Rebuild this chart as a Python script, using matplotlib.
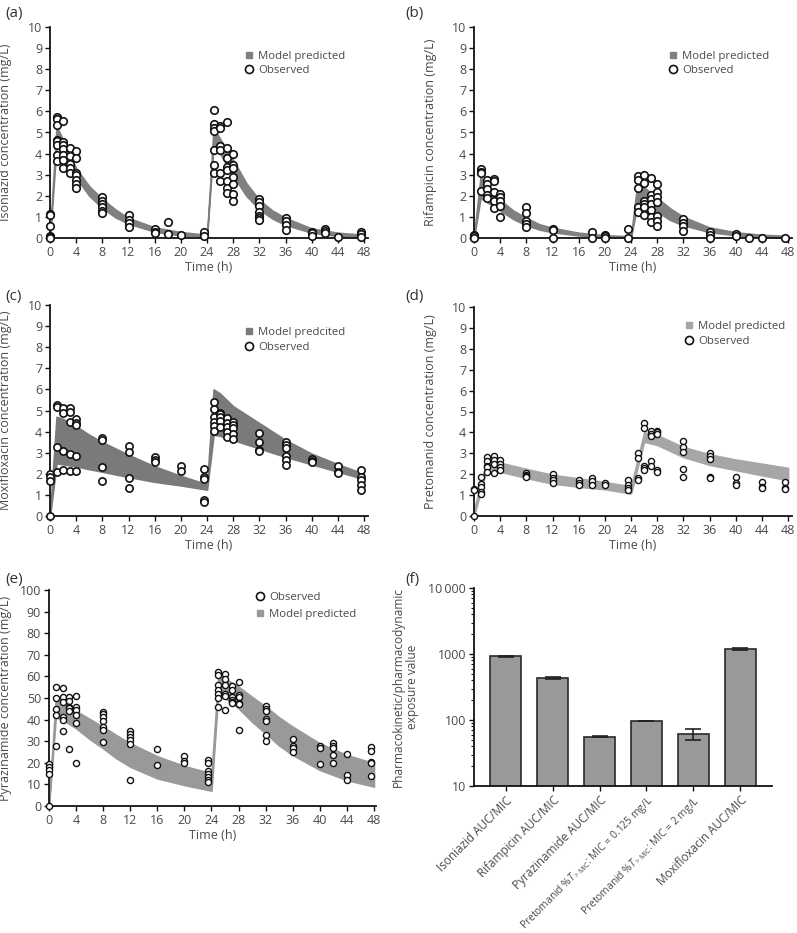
import matplotlib
matplotlib.use("Agg")
import matplotlib.pyplot as plt
from matplotlib.lines import Line2D
import numpy as np

plt.rcParams['font.family'] = ['Open Sans', 'DejaVu Sans']
plt.rcParams['mathtext.fontset'] = 'custom'
plt.rcParams['mathtext.rm'] = 'Open Sans'
plt.rcParams['mathtext.it'] = 'Open Sans:italic'

# ---------------- data ----------------
TIME_TICKS = list(range(0, 49, 4))

# (a) Isoniazid
INH_BAND_T = [0, 1, 2, 3, 4, 6, 8, 10, 12, 16, 20, 24, 25, 26, 27, 28, 30, 32, 34, 36, 40, 44, 48]
INH_BAND_HI = [0.2, 5.3, 4.65, 3.95, 3.3, 2.45, 1.85, 1.35, 0.95, 0.5, 0.28, 0.15, 5.2, 4.7, 4.2, 3.7, 2.6, 1.8, 1.3, 0.95, 0.45, 0.25, 0.15]
INH_BAND_LO = [0.0, 4.4, 4.15, 3.45, 2.85, 2.0, 1.42, 0.98, 0.68, 0.3, 0.12, 0.05, 4.4, 4.0, 3.45, 2.95, 2.0, 1.35, 0.92, 0.62, 0.25, 0.1, 0.05]
INH_OBS = {
    0: [1.15, 1.1, 0.55, 0.1, 0.05, 0.0],
    1: [5.75, 5.65, 5.35, 4.65, 4.6, 4.4, 3.95, 3.65],
    2: [5.55, 4.55, 4.4, 4.2, 3.95, 3.7, 3.3],
    3: [4.25, 3.9, 3.5, 3.3, 3.1],
    4: [4.1, 3.8, 3.1, 3.0, 2.75, 2.55, 2.35],
    8: [1.95, 1.75, 1.6, 1.45, 1.3, 1.2],
    12: [1.1, 0.85, 0.7, 0.5],
    16: [0.45, 0.3, 0.25],
    18: [0.75, 0.2],
    20: [0.15],
    23.5: [0.3, 0.1],
    25: [6.05, 5.4, 5.2, 5.05, 4.15, 3.45, 3.1],
    26: [5.3, 5.2, 4.35, 4.15, 3.1, 2.7],
    27: [5.5, 4.25, 3.8, 3.35, 3.2, 2.7, 2.35, 2.15],
    28: [4.0, 3.45, 3.3, 2.9, 2.55, 2.1, 1.75],
    32: [1.85, 1.7, 1.5, 1.25, 1.05, 0.95, 0.85],
    36: [0.95, 0.8, 0.6, 0.4],
    40: [0.3, 0.25, 0.1],
    42: [0.45, 0.35, 0.25],
    44: [0.05],
    47.5: [0.3, 0.2, 0.05],
}

# (b) Rifampicin
RIF_BAND_T = [0, 1, 2, 3, 4, 6, 8, 10, 12, 16, 20, 24, 25, 26, 27, 28, 30, 32, 36, 40, 44, 48]
RIF_BAND_HI = [0.1, 2.9, 2.35, 2.05, 1.8, 1.3, 0.95, 0.65, 0.48, 0.25, 0.13, 0.08, 2.7, 2.4, 2.15, 1.9, 1.4, 1.0, 0.5, 0.27, 0.15, 0.1]
RIF_BAND_LO = [0.0, 1.9, 1.7, 1.5, 1.3, 0.9, 0.6, 0.4, 0.28, 0.12, 0.06, 0.03, 1.65, 1.55, 1.4, 1.25, 0.85, 0.6, 0.28, 0.13, 0.06, 0.03]
RIF_OBS = {
    0: [0.15, 0.1, 0.0],
    1: [3.25, 3.15, 3.1, 2.25],
    2: [2.75, 2.55, 2.3, 2.05, 1.9],
    3: [2.8, 2.7, 2.2, 1.75, 1.4],
    4: [2.1, 1.95, 1.75, 1.5, 1.0],
    8: [1.45, 1.2, 0.8, 0.65, 0.5],
    12: [0.45, 0.4, 0.0],
    18: [0.3, 0.0],
    20: [0.15, 0.1, 0.0],
    23.5: [0.45, 0.0],
    25: [2.95, 2.75, 2.35, 1.45, 1.25],
    26: [2.97, 2.6, 1.75, 1.6, 1.45, 1.1],
    27: [2.85, 2.05, 1.85, 1.6, 1.35, 1.0, 0.75],
    28: [2.55, 2.2, 1.95, 1.7, 1.05, 0.8, 0.55],
    32: [0.9, 0.7, 0.55, 0.35],
    36: [0.3, 0.15, 0.0],
    40: [0.2, 0.1],
    42: [0.0],
    44: [0.0],
    47.5: [0.0],
}

# (c) Moxifloxacin
MOX_BAND_T = [0, 1, 2, 4, 6, 8, 10, 12, 16, 20, 24, 25, 26, 28, 30, 32, 34, 36, 40, 44, 48]
MOX_BAND_HI = [0.1, 4.7, 4.6, 4.25, 3.85, 3.5, 3.2, 2.9, 2.35, 1.9, 1.5, 6.0, 5.8, 5.2, 4.8, 4.4, 4.0, 3.6, 2.95, 2.45, 2.0]
MOX_BAND_LO = [0.0, 2.5, 2.45, 2.35, 2.22, 2.1, 1.97, 1.85, 1.62, 1.45, 1.25, 3.85, 3.8, 3.6, 3.4, 3.2, 3.0, 2.8, 2.45, 2.1, 1.75]
MOX_OBS = {
    0: [2.0, 1.85, 1.65, 0.0],
    1: [5.25, 5.15, 3.25, 2.1],
    2: [5.1, 4.9, 3.1, 2.2],
    3: [5.1, 4.95, 4.47, 2.95, 2.15],
    4: [4.6, 4.42, 4.3, 2.85, 2.15],
    8: [3.7, 3.6, 2.3, 1.65],
    12: [3.3, 3.05, 1.8, 1.35],
    16: [2.8, 2.65, 2.55],
    20: [2.37, 2.15],
    23.5: [2.25, 1.85, 1.75, 0.75, 0.65],
    25: [5.4, 5.05, 4.7, 4.45, 4.25, 4.05],
    26: [4.9, 4.85, 4.7, 4.5, 4.2],
    27: [4.65, 4.4, 4.2, 4.0, 3.75],
    28: [4.45, 4.3, 4.15, 3.9, 3.65],
    32: [3.95, 3.5, 3.15, 3.1],
    36: [3.5, 3.35, 3.2, 2.85, 2.65, 2.4],
    40: [2.7, 2.6, 2.55],
    44: [2.35, 2.1, 2.05],
    47.5: [2.2, 1.85, 1.7, 1.45, 1.25],
}

# (d) Pretomanid
PA_BAND_T = [0, 2, 4, 8, 12, 16, 20, 24, 26, 28, 32, 36, 40, 44, 48]
PA_BAND_HI = [0.3, 2.7, 2.55, 2.25, 1.97, 1.8, 1.62, 1.42, 4.0, 3.87, 3.3, 2.95, 2.7, 2.5, 2.3]
PA_BAND_LO = [0.0, 2.3, 2.12, 1.82, 1.55, 1.4, 1.28, 1.08, 3.55, 3.4, 2.82, 2.45, 2.2, 1.95, 1.72]
PA_OBS = {
    0: [1.3, 1.25, 0.0],
    1: [1.85, 1.55, 1.4, 1.15, 1.05],
    2: [2.8, 2.65, 2.4, 2.35, 2.1],
    3: [2.85, 2.7, 2.5, 2.05],
    4: [2.7, 2.5, 2.35, 2.2],
    8: [2.05, 1.95, 1.9, 1.85],
    12: [2.0, 1.8, 1.7, 1.6],
    16: [1.7, 1.6, 1.5],
    18: [1.8, 1.68, 1.5],
    20: [1.6, 1.5],
    23.5: [1.7, 1.5, 1.35, 1.25],
    25: [3.0, 2.78, 1.8, 1.7],
    26: [4.45, 4.2, 2.4, 2.3, 2.2],
    27: [4.05, 3.9, 3.85, 2.65, 2.4],
    28: [4.05, 4.0, 3.9, 2.2, 2.1],
    32: [3.6, 3.3, 3.05, 2.25, 1.85],
    36: [3.0, 2.85, 2.75, 1.85, 1.8],
    40: [1.85, 1.6, 1.5],
    44: [1.65, 1.4, 1.35],
    47.5: [1.65, 1.35, 1.3],
}

# (e) Pyrazinamide
PZA_BAND_T = [0, 1, 2, 4, 6, 8, 10, 12, 16, 20, 24, 25, 26, 28, 30, 32, 34, 36, 40, 44, 48]
PZA_BAND_HI = [2, 50, 48.5, 44, 40.3, 36.7, 32.7, 29, 23, 18.5, 15.1, 60, 59, 55.2, 50.5, 46, 41, 36.7, 29, 23.6, 19.8]
PZA_BAND_LO = [0, 41, 40, 36, 31, 26.7, 22, 18.2, 12.8, 9.7, 7.1, 52, 50, 45.2, 39, 33.6, 28, 23.6, 16.7, 12, 9]
PZA_OBS = {
    0: [19.5, 18, 16.5, 15, 0],
    1: [55, 50, 45, 42, 28],
    2: [54.5, 50.5, 48, 41, 40, 34.5],
    3: [50.5, 48.5, 46, 45.5, 44, 26.5],
    4: [51, 46, 44.5, 42, 38.5, 20],
    8: [43.5, 42.5, 41, 39.5, 36.5, 35, 29.5],
    12: [34.5, 33.5, 32, 30.5, 28.5, 12],
    16: [26.5, 19],
    20: [23, 21, 20],
    23.5: [21.5, 20, 16, 15, 13.5, 12, 11],
    25: [62, 60.5, 56, 53.5, 52, 50, 46],
    26: [61, 59, 56, 52, 51, 44.5],
    27: [55.5, 53.5, 50.5, 49, 48, 47.5],
    28: [57.5, 51.5, 50.5, 47.5, 47, 35],
    32: [46.5, 45, 44, 40.5, 39.5, 33, 30],
    36: [31, 28, 27, 25],
    40: [28, 27, 19.5],
    42: [29, 28, 27, 23.5, 20],
    44: [24, 14.5, 12],
    47.5: [27.5, 25.5, 20.5, 20, 14],
}

# (f) PK/PD exposure
PKPD_LABELS = [
    "Isoniazid AUC/MIC",
    "Rifampicin AUC/MIC",
    "Pyrazinamide AUC/MIC",
    r"Pretomanid %$T_{>\mathrm{MIC}}$: MIC = 0.125 mg/L",
    r"Pretomanid %$T_{>\mathrm{MIC}}$: MIC = 2 mg/L",
    "Moxifloxacin AUC/MIC",
]
PKPD_VALUES = [920, 430, 56, 96, 61, 1190]
PKPD_ERR = [20, 15, 1.5, 0, 12, 30]
PKPD_YTICKS = [10, 100, 1000, 10000]
PKPD_YTICKLABELS = ["10", "100", "1000", "10\u2009000"]

# ---------------- figure ----------------
W, H = 797, 933
FS = 9
LFS = 8.2
fig = plt.figure(figsize=(W / 100, H / 100), dpi=100)
TXT = '#4a4a4a'


def add_ax(l, t, r, b):
    return fig.add_axes([l / W, 1 - b / H, (r - l) / W, (b - t) / H])


def style(ax):
    for s in ['top', 'right']:
        ax.spines[s].set_visible(False)
    for s in ['left', 'bottom']:
        ax.spines[s].set_linewidth(1.3)
        ax.spines[s].set_color('#111111')
    ax.tick_params(direction='out', length=3.5, width=1.0, labelsize=FS,
                   labelcolor=TXT, color='#111111', pad=2.2)


def expand(obs):
    xs, ys = [], []
    for t, vals in obs.items():
        for v in vals:
            xs.append(t)
            ys.append(v)
    return xs, ys


def time_panel(box, band_t, lo, hi, obs, band_color, ylabel, ymax, ystep,
               xmax, legend_order, legend_xy, leg_spacing, ms, mew, ylab_x, model_label="Model predicted"):
    ax = add_ax(*box)
    style(ax)
    ax.fill_between(band_t, lo, hi, facecolor=band_color, edgecolor=band_color, lw=1.2, zorder=2)
    xs, ys = expand(obs)
    ax.scatter(xs, ys, s=ms ** 2, facecolor='white', edgecolor='#111111',
               linewidth=mew, zorder=3, clip_on=False)
    ax.set_xlim(0, xmax)
    ax.set_ylim(0, ymax)
    ax.set_xticks(TIME_TICKS)
    ax.set_yticks(np.arange(0, ymax + ystep / 2, ystep))
    ax.set_xlabel("Time (h)", fontsize=FS, color=TXT, labelpad=1.5)
    ax.set_ylabel(ylabel, fontsize=FS, color=TXT)
    ax.yaxis.set_label_coords(ylab_x, 0.5)
    h_model = Line2D([], [], marker='s', ls='', color=band_color, ms=3.8)
    h_obs = Line2D([], [], marker='o', ls='', mfc='white', mec='#111111', mew=1.2, ms=5.8)
    hm = {'model': (h_model, model_label), 'obs': (h_obs, "Observed")}
    handles = [hm[k][0] for k in legend_order]
    labels = [hm[k][1] for k in legend_order]
    leg = ax.legend(handles, labels, loc='upper left', bbox_to_anchor=legend_xy,
                    frameon=False, fontsize=LFS, handlelength=0.9, handletextpad=0.35,
                    borderpad=0, borderaxespad=0, labelspacing=leg_spacing)
    for t in leg.get_texts():
        t.set_color(TXT)
    return ax


time_panel((50, 27, 368, 238), INH_BAND_T, INH_BAND_LO, INH_BAND_HI, INH_OBS, '#808080',
           "Isoniazid concentration (mg/L)", 10, 1, 48.6, ['model', 'obs'], (0.61, 0.885), 0.2,
           5.4, 1.2, -0.12)
time_panel((474, 27, 792, 238), RIF_BAND_T, RIF_BAND_LO, RIF_BAND_HI, RIF_OBS, '#808080',
           "Rifampicin concentration (mg/L)", 10, 1, 48.6, ['model', 'obs'], (0.61, 0.885), 0.2,
           5.4, 1.2, -0.116)
time_panel((50, 305, 368, 516), MOX_BAND_T, MOX_BAND_LO, MOX_BAND_HI, MOX_OBS, '#7a7a7a',
           "Moxifloxacin concentration (mg/L)", 10, 1, 48.6, ['model', 'obs'], (0.61, 0.895), 0.35,
           5.2, 1.2, -0.12, model_label="Model predcited")
time_panel((474, 307, 792, 516), PA_BAND_T, PA_BAND_LO, PA_BAND_HI, PA_OBS, '#a6a6a6',
           "Pretomanid concentration (mg/L)", 10, 1, 48.6, ['model', 'obs'], (0.66, 0.935), 0.35,
           4.4, 1.0, -0.116)
time_panel((49, 590, 376, 806), PZA_BAND_T, PZA_BAND_LO, PZA_BAND_HI, PZA_OBS, '#999999',
           "Pyrazinamide concentration (mg/L)", 100, 10, 48.3, ['obs', 'model'], (0.63, 0.99), 0.5,
           4.4, 1.0, -0.112)

# (f) bars
axf = add_ax(474, 588, 772, 786)
style(axf)
xpos = np.arange(len(PKPD_VALUES))
axf.set_yscale('log')
axf.bar(xpos, PKPD_VALUES, width=0.66, color='#999999', edgecolor='#2a2a2a', linewidth=1.2,
        zorder=2, yerr=PKPD_ERR, capsize=6,
        error_kw=dict(elinewidth=1.2, capthick=1.2, ecolor='#222222'))
axf.set_ylim(10, 10000)
axf.set_xlim(-0.68, len(PKPD_VALUES) - 1 + 0.68)
axf.set_yticks(PKPD_YTICKS)
axf.set_yticklabels(PKPD_YTICKLABELS)
axf.yaxis.set_minor_formatter(matplotlib.ticker.NullFormatter())
axf.tick_params(axis='y', which='minor', length=2, width=0.8, color='#111111')
axf.set_xticks(xpos)
axf.set_xticklabels(PKPD_LABELS, rotation=45, ha='right', rotation_mode='anchor',
                    color=TXT)
for lab in axf.get_xticklabels():
    lab.set_fontsize(7.4 if 'Pretomanid' in lab.get_text() else 8.5)
axf.set_ylabel("Pharmacokinetic/pharmacodynamic\nexposure value", fontsize=8.6, color=TXT,
               linespacing=1.1)
axf.yaxis.set_label_coords(-0.185, 0.5)

# panel labels
for lab, x, y in [("(a)", 5, 13), ("(b)", 405, 13), ("(c)", 5, 297), ("(d)", 405, 297),
                  ("(e)", 5, 580), ("(f)", 405, 580)]:
    fig.text(x / W, 1 - y / H, lab, fontsize=11, color='#333333', va='center', ha='left')

fig.savefig("out.png", dpi=100)
